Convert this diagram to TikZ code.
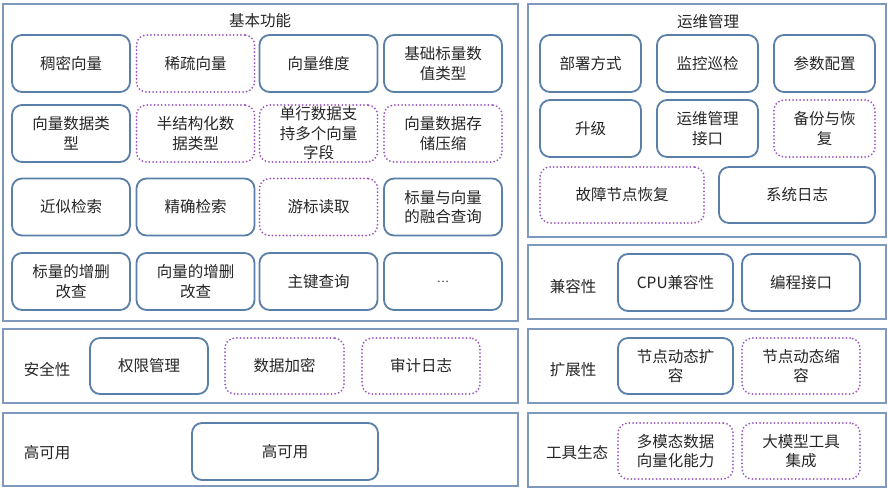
\documentclass[tikz,border=0pt]{standalone}
\usepackage{fontspec}
\setmainfont{Noto Sans CJK SC}
\usepackage{xcolor}
\definecolor{panelblue}{HTML}{7F99BE}
\definecolor{boxblue}{HTML}{5A7FA8}
\definecolor{dotpurple}{HTML}{9A55C0}
\definecolor{txtgray}{HTML}{262626}

\begin{document}
\begin{tikzpicture}[x=1pt,y=-1pt,
  panel/.style={draw=panelblue, line width=1.3pt},
  solidbox/.style={draw=boxblue, line width=1.8pt, rounded corners=10pt, align=center, text=txtgray,
    font=\fontsize{15.5}{19.5}\selectfont, inner sep=0pt},
  dotbox/.style={solidbox, draw=dotpurple, line width=2pt, line cap=round, dash pattern=on 0pt off 3.6pt},
  lbl/.style={text=txtgray, font=\fontsize{15.5}{19.5}\selectfont, inner sep=0pt}]
\useasboundingbox (0,0) rectangle (888,489);
\fill [white] (0,0) rectangle (888,489);

% panels
\draw [panel] (3,4) rectangle (518,321);
\draw [panel] (3,329) rectangle (518,403);
\draw [panel] (3,413) rectangle (518,486);
\draw [panel] (528,4) rectangle (886,237);
\draw [panel] (528,245) rectangle (886,319);
\draw [panel] (528,329) rectangle (886,403);
\draw [panel] (528,413) rectangle (886,487);

% 基本功能
\node [lbl] (jbgn) at (260,21) {基本功能};
\node [solidbox, minimum width=118, minimum height=57] (cmxl) at (71,63.5) {稠密向量};
\node [dotbox, minimum width=118, minimum height=57] (xsxl) at (195.5,63.5) {稀疏向量};
\node [solidbox, minimum width=118, minimum height=57] (xlwd) at (318.5,63.5) {向量维度};
\node [solidbox, minimum width=118, minimum height=57] (jcbl) at (443,63.5) {基础标量数\\值类型};
\node [solidbox, minimum width=118, minimum height=57] (xlsj) at (71,133.5) {向量数据类\\型};
\node [dotbox, minimum width=118, minimum height=57] (bjgh) at (195.5,133.5) {半结构化数\\据类型};
\node [dotbox, minimum width=118, minimum height=57] (dhsj) at (318.5,133.5) {单行数据支\\持多个向量\\字段};
\node [dotbox, minimum width=118, minimum height=57] (xlcc) at (443,133.5) {向量数据存\\储压缩};
\node [solidbox, minimum width=118, minimum height=57] (jsjs) at (71,207) {近似检索};
\node [solidbox, minimum width=118, minimum height=57] (jqjs) at (195.5,207) {精确检索};
\node [dotbox, minimum width=118, minimum height=57] (ybdq) at (318.5,207) {游标读取};
\node [solidbox, minimum width=118, minimum height=57] (rhcx) at (443,207) {标量与向量\\的融合查询};
\node [solidbox, minimum width=118, minimum height=57] (blzs) at (71,281.5) {标量的增删\\改查};
\node [solidbox, minimum width=118, minimum height=57] (xlzs) at (195.5,281.5) {向量的增删\\改查};
\node [solidbox, minimum width=118, minimum height=57] (zjcx) at (318.5,281.5) {主键查询};
\node [solidbox, minimum width=118, minimum height=57] (more) at (443,281.5) {\fontsize{11}{12}\selectfont\ldots};

% 安全性 / 高可用
\node [lbl] (aqx) at (47,370) {安全性};
\node [solidbox, minimum width=118, minimum height=56] (qxgl) at (149,366) {权限管理};
\node [dotbox, minimum width=119, minimum height=56] (sjjm) at (284.5,366) {数据加密};
\node [dotbox, minimum width=118, minimum height=56] (sjrz) at (421,366) {审计日志};
\node [lbl] (gky) at (47,453) {高可用};
\node [solidbox, minimum width=186, minimum height=57] (gkyb) at (285,451.5) {高可用};

% 运维管理
\node [lbl] (ywgl) at (708,22) {运维管理};
\node [solidbox, minimum width=101, minimum height=57] (bsfs) at (590.5,63.5) {部署方式};
\node [solidbox, minimum width=101, minimum height=57] (jkxj) at (707.5,63.5) {监控巡检};
\node [solidbox, minimum width=101, minimum height=57] (cspz) at (824.5,63.5) {参数配置};
\node [solidbox, minimum width=101, minimum height=57] (sj) at (590.5,128.5) {升级};
\node [solidbox, minimum width=101, minimum height=57] (ywjk) at (707.5,128.5) {运维管理\\接口};
\node [dotbox, minimum width=101, minimum height=57] (bfhf) at (824.5,128.5) {备份与恢\\复};
\node [dotbox, minimum width=164, minimum height=56] (gzhf) at (622,195) {故障节点恢复};
\node [solidbox, minimum width=156, minimum height=56] (xtrz) at (797,195) {系统日志};

% 兼容性 / 扩展性 / 工具生态
\node [lbl] (jrx) at (573,287) {兼容性};
\node [solidbox, minimum width=115, minimum height=57] (cpu) at (675.5,282.5) {CPU兼容性};
\node [solidbox, minimum width=118, minimum height=57] (bcjk) at (801,282.5) {编程接口};
\node [lbl] (kzx) at (573,370) {扩展性};
\node [solidbox, minimum width=115, minimum height=56] (kr) at (675.5,366) {节点动态扩\\容};
\node [dotbox, minimum width=118, minimum height=56] (sr) at (801,366) {节点动态缩\\容};
\node [lbl] (gjst) at (577,453) {工具生态};
\node [dotbox, minimum width=115, minimum height=56] (dmt) at (675.5,451) {多模态数据\\向量化能力};
\node [dotbox, minimum width=118, minimum height=56] (dmx) at (801,451) {大模型工具\\集成};

\end{tikzpicture}
\end{document}
